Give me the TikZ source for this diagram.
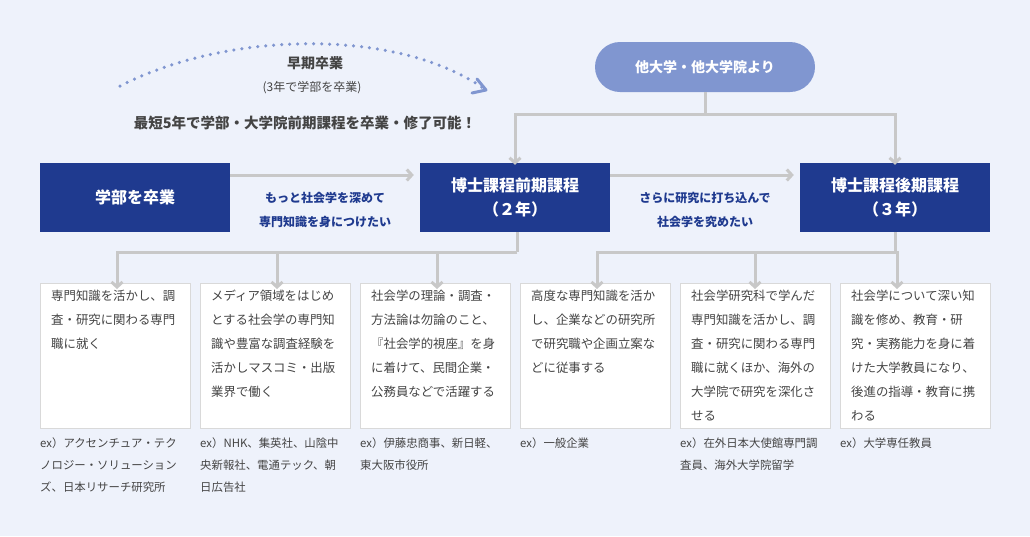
\documentclass[tikz,border=0pt]{standalone}
\usepackage{fontspec}
\setmainfont{Noto Sans CJK JP}
\usetikzlibrary{arrows.meta, positioning}
\definecolor{bg}{HTML}{EEF2FB}
\definecolor{deep}{HTML}{1F3A8F}
\definecolor{soft}{HTML}{8096D0}
\definecolor{conn}{HTML}{C8C8C8}
\definecolor{body}{HTML}{444444}

\begin{document}
\begin{tikzpicture}
    [
        x=1pt, y=-1pt,
        course/.style={fill=deep, text=white, font=\fontsize{16}{24}\selectfont\bfseries, minimum width=190pt, minimum height=69pt, align=center},
        note/.style={draw=conn!70, fill=white, minimum width=150pt, minimum height=145pt, anchor=north west},
        notetext/.style={anchor=north west, align=left, text=body, font=\fontsize{12.4}{24}\selectfont, inner sep=0pt},
        extext/.style={anchor=north west, align=left, text=body, font=\fontsize{11.4}{22}\selectfont, inner sep=0pt},
        wish/.style={text=deep, font=\fontsize{12}{24}\selectfont\bfseries, align=center}
    ]
    \tikzstyle{line} = [draw=conn, line width=3pt, -{Straight Barb[length=5pt,width=11pt]}]
    \tikzstyle{plain} = [draw=conn, line width=3pt]

    \fill[bg] (0,0) rectangle (1030,536);

    % courses
    \node[course] (bachelor) at (135,197.5) {学部を卒業};
    \node[course] (master) at (515,197.5) {博士課程前期課程\\（２年）};
    \node[course] (doctor) at (895,197.5) {博士課程後期課程\\（３年）};
    \node[fill=soft, text=white, rounded corners=25pt, minimum width=220pt, minimum height=50pt, font=\fontsize{14}{20}\selectfont\bfseries] (other) at (705,67) {他大学・他大学院より};

    % early graduation
    \coordinate (arcstart) at (120,86);
    \coordinate (arcend) at (486,90);
    \draw[soft, line width=3.5pt, dash pattern=on 0pt off 8pt, line cap=round] (arcstart) .. controls (230,30) and (400,28) .. (arcend);
    \draw[soft, line width=3pt, line cap=round, line join=round] (477,79) -- (arcend) -- (472,93);
    \node[font=\fontsize{14}{16}\selectfont\bfseries, text=body] (early) at (315,63) {早期卒業};
    \node[font=\fontsize{12}{14}\selectfont, text=body] (earlysub) at (312,88) {(3年で学部を卒業)};
    \node[font=\fontsize{14.5}{16}\selectfont\bfseries, text=body] (shortest) at (305,123) {最短5年で学部・大学院前期課程を卒業・修了可能！};

    % main flow
    \coordinate (b1) at (bachelor.east |- 0,175);
    \coordinate (m1) at (master.west |- 0,175);
    \coordinate (m2) at (master.east |- 0,175);
    \coordinate (d1) at (doctor.west |- 0,175);
    \path[line] (b1) -- ([xshift=-6pt]m1);
    \path[line] (m2) -- ([xshift=-6pt]d1);
    \node[wish] (wish1) at (325,210) {もっと社会学を深めて\\専門知識を身につけたい};
    \node[wish] (wish2) at (705,210) {さらに研究に打ち込んで\\社会学を究めたい};

    % from other universities
    \coordinate (o1) at (705,114);
    \path[plain] (other.south) -- (o1);
    \path[line] (o1) -| ([yshift=-2pt]master.north);
    \path[line] (o1) -| ([yshift=-2pt]doctor.north);

    % career notes
    \foreach \i/\x in {1/40,2/200,3/360,4/520,5/680,6/840}
        \node[note] (note\i) at (\x,283) {};

    \coordinate (mj) at (517,252);
    \coordinate (dj) at (895,252);
    \path[plain] (master.south -| mj) -- (mj);
    \path[plain] (doctor.south -| dj) -- (dj);
    \foreach \i/\x in {1/117,2/277,3/437}
        \path[line] (mj) -| ([yshift=-6pt]\x,283);
    \foreach \i/\x in {4/597,5/755,6/897}
        \path[line] (dj) -| ([yshift=-6pt]\x,283);

    \node[notetext] at (51,290) {専門知識を活かし、調\\査・研究に関わる専門\\職に就く};
    \node[notetext] at (211,290) {メディア領域をはじめ\\とする社会学の専門知\\識や豊富な調査経験を\\活かしマスコミ・出版\\業界で働く};
    \node[notetext] at (371,290) {社会学の理論・調査・\\方法論は勿論のこと、\\『社会学的視座』を身\\に着けて、民間企業・\\公務員などで活躍する};
    \node[notetext] at (531,290) {高度な専門知識を活か\\し、企業などの研究所\\で研究職や企画立案な\\どに従事する};
    \node[notetext] at (691,290) {社会学研究科で学んだ\\専門知識を活かし、調\\査・研究に関わる専門\\職に就くほか、海外の\\大学院で研究を深化さ\\せる};
    \node[notetext] at (851,290) {社会学について深い知\\識を修め、教育・研\\究・実務能力を身に着\\けた大学教員になり、\\後進の指導・教育に携\\わる};

    % examples
    \node[extext] at (40,438) {ex）アクセンチュア・テク\\ノロジー・ソリューション\\ズ、日本リサーチ研究所};
    \node[extext] at (200,438) {ex）NHK、集英社、山陰中\\央新報社、電通テック、朝\\日広告社};
    \node[extext] at (360,438) {ex）伊藤忠商事、新日軽、\\東大阪市役所};
    \node[extext] at (520,438) {ex）一般企業};
    \node[extext] at (680,438) {ex）在外日本大使館専門調\\査員、海外大学院留学};
    \node[extext] at (840,438) {ex）大学専任教員};
\end{tikzpicture}
\end{document}
